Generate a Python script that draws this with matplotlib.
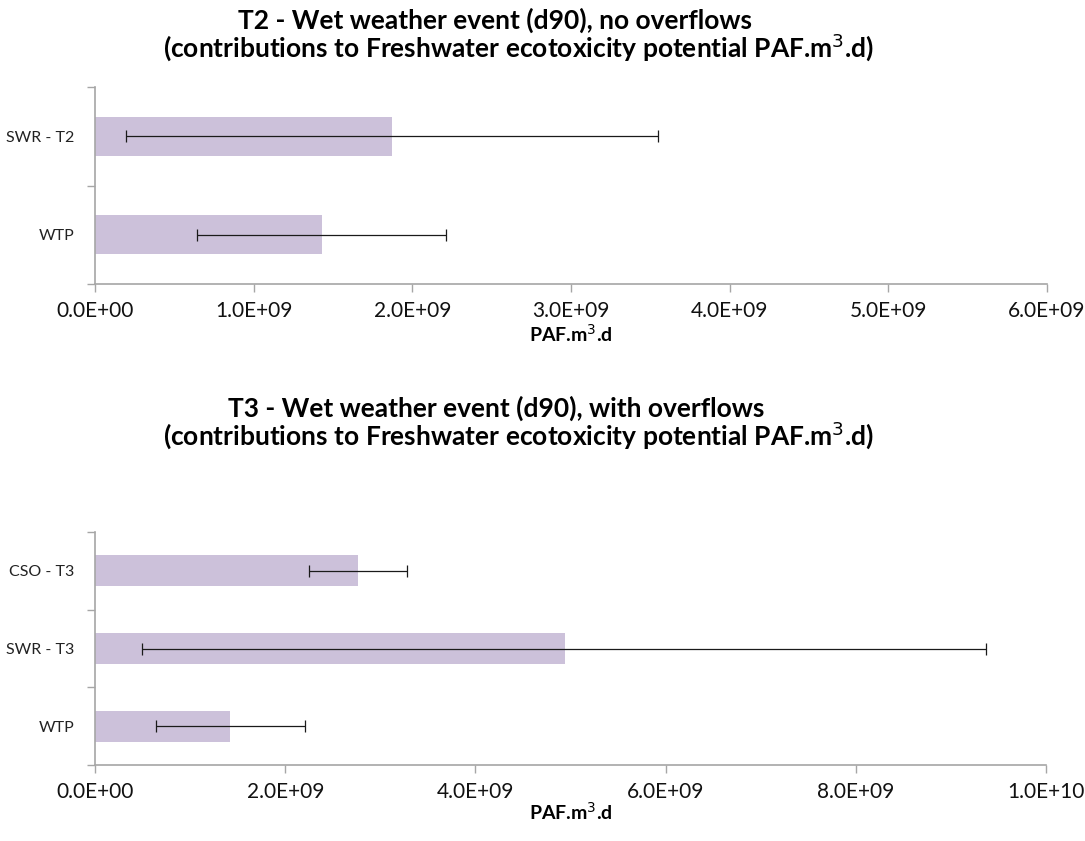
import matplotlib
matplotlib.use("Agg")
import matplotlib.pyplot as plt
import numpy as np

plt.rcParams['font.family'] = ['Lato', 'DejaVu Sans']

# ---- data ----
cats_t2 = ["WTP", "SWR - T2"]
vals_t2 = [1.43e9, 1.87e9]
low_t2 = [0.645e9, 0.195e9]
high_t2 = [2.21e9, 3.55e9]

cats_t3 = ["WTP", "SWR - T3", "CSO - T3"]
vals_t3 = [1.42e9, 4.94e9, 2.77e9]
low_t3 = [0.645e9, 0.494e9, 2.25e9]
high_t3 = [2.21e9, 9.37e9, 3.28e9]

xticks_t2 = [0, 1e9, 2e9, 3e9, 4e9, 5e9, 6e9]
xticks_t3 = [0, 2e9, 4e9, 6e9, 8e9, 1e10]

title_t2 = ["T2 - Wet weather event (d90), no overflows",
            "(contributions to Freshwater ecotoxicity potential PAF.m$^3$.d)"]
title_t3 = ["T3 - Wet weather event (d90), with overflows",
            "(contributions to Freshwater ecotoxicity potential PAF.m$^3$.d)"]
xlabel = "PAF.m$^3$.d"

W, H = 1085, 841
fig = plt.figure(figsize=(W / 100, H / 100), dpi=100)

BAR = '#CCC1DA'
AX = '#A6A6A6'


def px_axes(l, t, r, b):
    return fig.add_axes([l / W, 1 - b / H, (r - l) / W, (b - t) / H])


def draw(ax, cats, vals, lo, hi, xticks, xmax):
    y = np.arange(len(cats))
    ax.barh(y, vals, height=0.4, color=BAR, zorder=2)
    vals_a = np.array(vals)
    err = [vals_a - np.array(lo), np.array(hi) - vals_a]
    ax.errorbar(vals, y, xerr=err, fmt='none', ecolor='#1a1a1a',
                elinewidth=0.9, capsize=4, capthick=0.9, zorder=3)
    ax.set_xlim(0, xmax)
    ax.set_ylim(-0.5, len(cats) - 0.5)
    ax.set_xticks(xticks)
    ax.set_xticklabels(["%.1E" % v for v in xticks])
    ax.set_yticks(np.arange(len(cats) + 1) - 0.5)
    ax.set_yticklabels([])
    ax.set_yticks(y, minor=True)
    ax.set_yticklabels(cats, minor=True)
    ax.tick_params(axis='y', which='major', length=6, color=AX, width=1)
    ax.tick_params(axis='y', which='minor', length=0, pad=15, labelsize=11.5,
                   labelcolor='#222222')
    ax.tick_params(axis='x', length=6, color=AX, width=1, labelsize=15,
                   pad=6, labelcolor='#111111')
    for s in ['top', 'right']:
        ax.spines[s].set_visible(False)
    for s in ['left', 'bottom']:
        ax.spines[s].set_color(AX)
        ax.spines[s].set_linewidth(1.2)


ax1 = px_axes(95, 87, 1047, 284)
draw(ax1, cats_t2, vals_t2, low_t2, high_t2, xticks_t2, 6e9)
ax2 = px_axes(95, 532, 1046, 765)
draw(ax2, cats_t3, vals_t3, low_t3, high_t3, xticks_t3, 1e10)


def ftext(x, y, s, **kw):
    fig.text(x / W, 1 - y / H, s, ha='center', va='center', **kw)


ftext(495, 20, title_t2[0], fontsize=19, fontweight='bold')
ftext(519, 47, title_t2[1], fontsize=19, fontweight='bold')
ftext(496, 408, title_t3[0], fontsize=19, fontweight='bold')
ftext(519, 435, title_t3[1], fontsize=19, fontweight='bold')
ftext(571, 334, xlabel, fontsize=14, fontweight='bold')
ftext(571, 812, xlabel, fontsize=14, fontweight='bold')

fig.savefig("out.png", dpi=100, facecolor='white')
